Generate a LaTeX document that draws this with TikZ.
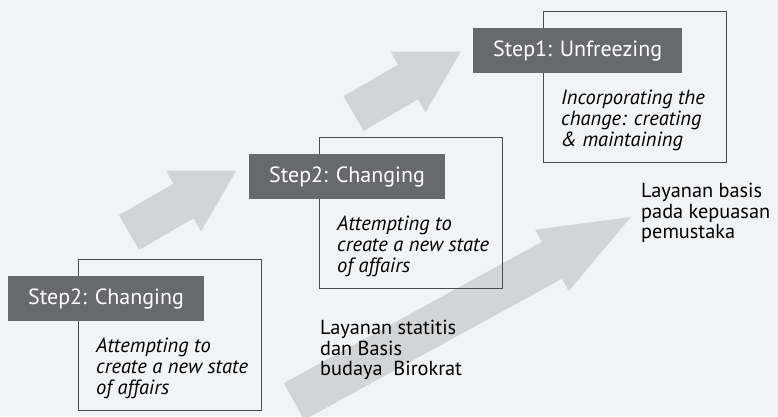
\documentclass[tikz,border=0pt]{standalone}
\usepackage{fontspec}
\setmainfont{PT Sans}
\usetikzlibrary{calc}
\definecolor{bggray}{RGB}{242,243,245}
\definecolor{arrowgray}{RGB}{211,212,214}
\definecolor{lblgray}{RGB}{104,105,108}
\definecolor{edgegray}{RGB}{75,75,78}
\tikzset{stepbox/.style={draw=edgegray, line width=1.1pt, minimum width=183pt, minimum height=151pt, anchor=north west},
  steplbl/.style={fill=lblgray, text=white, minimum height=45pt, inner xsep=20pt, anchor=north west, font=\fontsize{22}{24}\selectfont},
  steptxt/.style={anchor=north west, inner sep=0pt, align=left, font=\fontsize{20.5}{21}\selectfont\itshape},
  bodytxt/.style={anchor=north west, inner sep=0pt, align=left, font=\fontsize{20.3}{20.5}\selectfont}}
% arrow: tail centre, angle, length, head length, shaft half width, head half width
\newcommand{\steparrow}[6]{%
  \fill[arrowgray, shift={(#1)}, rotate=#2]
    (0,-#5) -- ({#3-#4},-#5) -- ({#3-#4},-#6) -- (#3,0) -- ({#3-#4},#6) -- ({#3-#4},#5) -- (0,#5) -- cycle;}

\begin{document}
\begin{tikzpicture}[x=1pt, y=1pt]
  \fill[bggray] (0,0) rectangle (778,416);
  \useasboundingbox (0,0) rectangle (778,416);
  % arrows
  \begin{scope}
    \clip (0,0) rectangle (778,416);
    \steparrow{129,183.5}{30}{124}{61}{20}{35}
    \steparrow{353.5,302.5}{30}{124}{61}{20}{35}
    \steparrow{294,14.5}{28.7}{384}{90}{21}{35}
  \end{scope}
  % step 1 (bottom)
  \node[stepbox] (b1) at (78,157) {};
  \node[steplbl] (l1) at ($(b1.north west)+(-70,-17)$) {Step2: Changing};
  \node[steptxt] (t1) at ($(b1.north west)+(18,-79)$) {Attempting to\\create a new state\\of affairs};
  % step 2 (middle)
  \node[stepbox] (b2) at (319,279) {};
  \node[steplbl] (l2) at ($(b2.north west)+(-70,-17)$) {Step2: Changing};
  \node[steptxt] (t2) at ($(b2.north west)+(18,-79)$) {Attempting to\\create a new state\\of affairs};
  % step 3 (top)
  \node[stepbox] (b3) at (543,405) {};
  \node[steplbl] (l3) at ($(b3.north west)+(-70,-17)$) {Step1: Unfreezing};
  \node[steptxt] (t3) at ($(b3.north west)+(18,-79)$) {Incorporating the\\change: creating\\\& maintaining};
  % labels on the big arrow
  \node[bodytxt] (low) at (320,96) {Layanan statitis\\dan Basis\\budaya\ \ Birokrat};
  \node[bodytxt] (high) at (641,233) {Layanan basis\\pada kepuasan\\pemustaka};
\end{tikzpicture}
\end{document}
